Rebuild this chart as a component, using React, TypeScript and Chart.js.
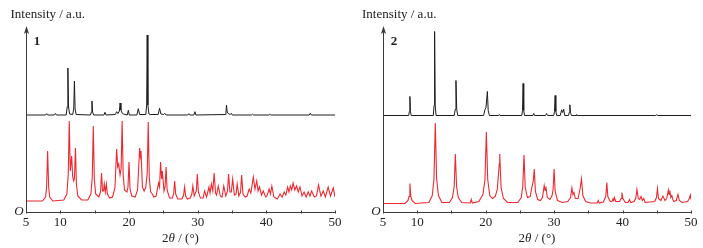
import React, { useEffect, useRef } from 'react';
import { Chart, registerables } from 'chart.js';

Chart.register(...registerables);

type Pt = [number, number];

// 2θ axis
const THETA_MIN = 5;
const THETA_MAX = 50;
const THETA_STEP = 5;
const THETA_LABELS = [5, 10, 20, 30, 40, 50];

// Intensity axis range (a.u.)
const INTENSITY_MAX = 186.5;

// Panel labels
const PANEL_IDS = ['1', '2'];

// Stacking offsets (a.u.)
const EXP1_OFFSET = 97.5;
const SIM1_OFFSET = 11.5;
const EXP2_OFFSET = 97;
const SIM2_OFFSET = 9;

// Compound 1, experimental (black)
const EXP1: Pt[] = [
  [5, 0], [7.85, 0], [8.0, 1.3], [8.15, 0], [9.15, 0], [9.3, 1.5], [9.45, 0],
  [10.85, 0], [11.0, 8], [11.1, 47], [11.2, 8], [11.35, 1], [11.8, 0.5], [11.95, 6], [12.05, 34], [12.15, 6], [12.3, 0.5],
  [14.4, 0], [14.52, 3], [14.6, 14], [14.7, 3], [14.85, 0], [16.35, 0], [16.5, 2.7], [16.65, 0],
  [18.0, 0.5], [18.2, 3.3], [18.4, 1.5], [18.6, 4], [18.7, 12], [18.82, 5], [19.0, 2], [19.2, 1], [19.75, 0], [19.9, 4.7], [20.05, 0],
  [21.15, 0], [21.35, 6.3], [21.55, 0.5], [22.45, 0.5], [22.57, 10], [22.65, 80], [22.75, 10], [22.9, 1], [23.1, 0.5],
  [24.25, 0.5], [24.45, 6.7], [24.65, 1], [25.05, 0.5], [25.2, 1.7], [25.4, 0],
  [28.55, 0], [28.7, 1.3], [28.85, 0], [29.45, 0], [29.6, 3.3], [29.75, 0],
  [34.0, 0.5], [34.12, 3], [34.2, 10], [34.3, 3], [34.45, 1.5], [34.75, 0.5], [34.9, 1.7], [35.05, 0],
  [37.85, 0], [38.0, 0.8], [38.15, 0], [40.35, 0], [40.5, 0.8], [40.65, 0],
  [46.25, 0], [46.4, 1.7], [46.55, 0], [50, 0],
];

// Compound 1, simulated (red)
const SIM1: Pt[] = [
  [5, 0], [7.4, 0], [7.85, 4], [8.0, 14], [8.15, 50], [8.3, 14], [8.45, 4], [8.9, 0],
  [10.5, 1], [10.95, 7], [11.15, 26], [11.3, 80], [11.45, 30], [11.65, 45], [11.8, 24], [11.95, 20], [12.05, 22], [12.2, 53], [12.35, 16], [12.55, 5], [13.1, 1],
  [14.0, 1], [14.45, 7], [14.65, 24], [14.8, 75], [14.95, 22], [15.15, 7], [15.6, 4], [15.85, 9], [16.0, 28], [16.15, 10], [16.3, 10], [16.4, 17], [16.55, 9], [16.7, 17], [16.85, 7], [17.2, 3],
  [17.6, 4], [17.95, 13], [18.2, 52], [18.35, 34], [18.5, 37], [18.7, 26], [18.85, 32], [19.0, 80], [19.15, 26], [19.35, 11], [19.7, 9], [19.85, 14], [20.0, 39], [20.15, 12], [20.4, 5],
  [20.9, 4], [21.25, 11], [21.55, 53], [21.65, 45], [21.75, 50], [21.95, 14], [22.2, 10], [22.45, 14], [22.65, 28], [22.8, 79], [22.95, 24], [23.15, 9], [23.4, 7], [23.6, 4],
  [23.95, 5], [24.3, 18], [24.45, 14], [24.6, 39], [24.75, 22], [24.85, 30], [25.1, 10], [25.25, 14], [25.4, 34], [25.55, 11], [25.9, 3],
  [26.3, 3], [26.5, 7], [26.65, 20], [26.8, 7], [27.1, 2],
  [27.7, 2], [27.95, 6], [28.1, 14], [28.25, 5], [28.5, 2],
  [28.9, 3], [29.15, 7], [29.3, 15], [29.5, 5], [29.8, 10], [29.95, 27], [30.1, 9], [30.4, 3],
  [30.8, 3], [31.0, 10], [31.3, 4], [31.65, 14], [31.8, 8], [32.0, 17], [32.2, 10], [32.4, 28], [32.6, 8], [32.75, 6],
  [33.0, 15], [33.3, 5], [33.55, 4], [33.8, 15], [34.1, 5], [34.35, 10], [34.5, 27], [34.7, 9], [34.9, 9], [35.1, 22], [35.35, 6],
  [35.6, 7], [35.75, 17], [36.0, 5], [36.25, 9], [36.4, 26], [36.6, 7], [36.9, 4],
  [37.2, 5], [37.5, 12], [37.75, 8], [38.1, 24], [38.35, 12], [38.6, 20], [38.8, 10], [39.0, 14], [39.3, 6], [39.55, 10], [39.9, 4],
  [40.1, 5], [40.4, 12], [40.6, 7], [40.8, 15], [41.1, 4], [41.6, 2], [42.0, 7], [42.3, 4], [42.6, 9], [42.85, 6],
  [43.1, 14], [43.3, 9], [43.5, 15], [43.7, 11], [43.9, 18], [44.15, 11], [44.4, 15], [44.65, 9], [44.9, 14],
  [45.2, 5], [45.5, 9], [45.8, 4], [46.1, 9], [46.35, 5], [46.6, 10], [47.0, 4], [47.3, 5], [47.6, 16], [47.95, 5],
  [48.3, 10], [48.6, 4], [49.0, 14], [49.35, 5], [49.75, 13], [50, 4],
];

// Compound 2, experimental (black)
const EXP2: Pt[] = [
  [5, 0], [8.75, 0], [8.85, 4], [8.93, 19], [9.01, 4], [9.12, 0],
  [12.35, 0], [12.46, 10], [12.54, 84], [12.63, 10], [12.75, 0],
  [15.4, 0], [15.55, 6], [15.66, 35], [15.77, 6], [15.92, 0],
  [19.7, 0], [19.9, 6], [20.05, 8], [20.25, 24], [20.37, 5], [20.55, 0],
  [21.9, 0], [22.0, 1], [22.1, 0],
  [25.28, 0], [25.38, 5], [25.47, 32], [25.56, 5], [25.68, 0],
  [26.9, 0], [27.03, 2], [27.15, 0],
  [28.75, 0], [28.9, 2], [29.05, 0],
  [29.95, 0], [30.05, 4], [30.15, 20], [30.25, 4], [30.38, 0],
  [30.9, 0], [31.1, 5.7], [31.25, 3], [31.4, 6.3], [31.55, 0],
  [32.1, 0], [32.2, 3], [32.3, 10.7], [32.4, 3], [32.52, 0],
  [33.2, 0], [33.3, 1], [33.4, 0],
  [44.85, 0], [45.0, 0.8], [45.15, 0], [50, 0],
];

// Compound 2, simulated (red)
const SIM2: Pt[] = [
  [5, 0], [8.2, 0], [8.65, 3], [8.8, 7], [8.93, 20], [9.06, 7], [9.25, 3], [9.7, 0],
  [11.7, 1], [12.2, 8], [12.45, 25], [12.64, 80.5], [12.83, 25], [13.1, 8], [13.6, 1],
  [14.7, 1], [15.15, 6], [15.4, 17], [15.57, 49.5], [15.75, 17], [16.0, 6], [16.5, 1],
  [17.75, 0.5], [17.9, 4], [18.05, 0.5],
  [19.0, 2], [19.6, 9], [19.9, 24], [20.1, 71.5], [20.3, 24], [20.6, 8], [21.0, 5], [21.4, 7], [21.7, 14], [21.9, 32], [22.0, 40], [22.06, 49.5], [22.25, 16], [22.6, 5], [23.2, 1],
  [24.7, 1], [25.2, 6], [25.42, 17], [25.6, 48.5], [25.78, 16], [26.1, 6], [26.5, 7], [26.8, 18], [26.95, 22], [27.1, 34.5], [27.27, 12], [27.6, 4], [28.0, 3],
  [28.3, 6], [28.55, 18], [28.68, 13], [28.8, 17], [29.0, 6], [29.4, 4],
  [29.7, 8], [29.85, 14], [30.0, 34.5], [30.15, 12], [30.5, 3], [31.2, 1],
  [32.0, 2], [32.4, 6], [32.6, 15.5], [32.75, 9], [32.9, 11], [33.1, 5], [33.5, 5], [33.8, 15], [34.0, 24.5], [34.2, 8], [34.6, 2], [35.3, 0.5],
  [36.3, 0.5], [36.45, 3], [36.6, 0.5],
  [37.2, 1.5], [37.55, 7], [37.7, 21], [37.85, 7], [38.2, 2],
  [38.45, 2], [38.6, 4.5], [38.7, 3], [38.8, 6], [39.0, 2],
  [39.55, 2], [39.8, 5], [39.9, 11], [40.05, 5], [40.4, 1],
  [40.8, 1], [41.0, 4], [41.2, 1],
  [41.7, 2], [41.95, 6], [42.1, 14], [42.3, 5], [42.5, 4], [42.7, 7], [42.9, 3], [43.1, 5], [43.3, 1],
  [44.7, 2], [44.95, 6], [45.1, 15], [45.25, 5], [45.6, 3], [45.9, 7.5], [46.2, 3], [46.45, 5], [46.7, 13.5], [46.8, 9], [46.9, 13],
  [47.05, 6], [47.2, 8], [47.35, 4], [47.5, 2],
  [47.85, 3], [48.1, 9], [48.3, 3], [48.7, 1],
  [49.5, 2], [49.75, 5], [49.9, 8.5], [50, 4],
];

const FONT = "'Liberation Serif', 'Times New Roman', serif";
const AXIS_COLOR = '#3a3a3a';
const TEXT_COLOR = '#222';
const BLACK = '#1e1e1e';
const RED = '#ea2a33';

type PanelProps = {
  id: string;
  exp: Pt[];
  sim: Pt[];
  expOffset: number;
  simOffset: number;
  width: number;
  height: number;
  padLeft: number;
  padRight: number;
  padTop: number;
  xAxisHeight: number;
  titleDx: number;
};

function Panel(p: PanelProps) {
  const ref = useRef<HTMLCanvasElement | null>(null);

  useEffect(() => {
    const canvas = ref.current;
    if (!canvas) return;

    const decor = {
      id: 'decor',
      afterDraw(chart: any) {
        const { ctx, chartArea: a } = chart;
        const xs = chart.scales.x;
        ctx.save();
        ctx.strokeStyle = AXIS_COLOR;
        ctx.fillStyle = AXIS_COLOR;
        ctx.lineWidth = 1;
        const ax = Math.round(a.left) + 0.5;
        // y axis with arrow
        ctx.beginPath();
        ctx.moveTo(ax, a.bottom);
        ctx.lineTo(ax, a.top + 5);
        ctx.stroke();
        ctx.beginPath();
        ctx.moveTo(ax, a.top);
        ctx.lineTo(ax - 2.6, a.top + 8);
        ctx.lineTo(ax, a.top + 6);
        ctx.lineTo(ax + 2.6, a.top + 8);
        ctx.closePath();
        ctx.fill();
        // inward ticks
        const by = Math.round(a.bottom) + 0.5;
        for (const t of xs.ticks) {
          const px = Math.round(xs.getPixelForValue(t.value)) + 0.5;
          ctx.beginPath();
          ctx.moveTo(px, by);
          ctx.lineTo(px, by - 3);
          ctx.stroke();
        }
        // texts
        ctx.fillStyle = TEXT_COLOR;
        ctx.textBaseline = 'alphabetic';
        ctx.textAlign = 'left';
        ctx.font = `13px ${FONT}`;
        ctx.fillText('Intensity / a.u.', a.left + p.titleDx, 18);
        ctx.font = `italic 13px ${FONT}`;
        ctx.textAlign = 'center';
        ctx.fillText('O', a.left - 7, a.bottom + 2);
        ctx.font = `bold 13px ${FONT}`;
        ctx.fillText(p.id, a.left + 11, 45);
        // x title
        const parts: [string, string][] = [
          ['2', `13px ${FONT}`],
          ['θ', `italic 13px ${FONT}`],
          [' / (°)', `13px ${FONT}`],
        ];
        ctx.textAlign = 'left';
        let total = 0;
        for (const [s, f] of parts) {
          ctx.font = f;
          total += ctx.measureText(s).width;
        }
        let cx = (a.left + a.right) / 2 - total / 2;
        for (const [s, f] of parts) {
          ctx.font = f;
          ctx.fillText(s, cx, 242);
          cx += ctx.measureText(s).width;
        }
        ctx.restore();
      },
    };

    const toXY = (arr: Pt[], off: number) => arr.map(([x, y]) => ({ x, y: y + off }));

    const chart = new Chart(canvas, {
      type: 'line',
      data: {
        datasets: [
          {
            data: toXY(p.sim, p.simOffset),
            borderColor: RED,
            borderWidth: 1.1,
            pointRadius: 0,
            tension: 0,
            fill: false,
          },
          {
            data: toXY(p.exp, p.expOffset),
            borderColor: BLACK,
            borderWidth: 1,
            pointRadius: 0,
            tension: 0,
            fill: false,
          },
        ],
      },
      options: {
        animation: false,
        responsive: false,
        devicePixelRatio: 1,
        parsing: false as any,
        normalized: true,
        layout: { padding: { left: p.padLeft, right: p.padRight, top: p.padTop, bottom: 0 } },
        plugins: { legend: { display: false }, tooltip: { enabled: false }, title: { display: false } },
        scales: {
          x: {
            type: 'linear',
            min: THETA_MIN,
            max: THETA_MAX,
            afterFit: (s: any) => {
              s.height = p.xAxisHeight;
            },
            grid: { display: false, drawTicks: false },
            border: { display: true, color: AXIS_COLOR, width: 1 },
            ticks: {
              stepSize: THETA_STEP,
              autoSkip: false,
              maxRotation: 0,
              padding: 2,
              color: TEXT_COLOR,
              font: { family: FONT, size: 13 },
              callback: (v: any) => (THETA_LABELS.includes(Number(v)) ? String(v) : ''),
            },
          },
          y: {
            type: 'linear',
            display: false,
            min: 0,
            max: INTENSITY_MAX,
          },
        },
      },
      plugins: [decor],
    });
    return () => chart.destroy();
  }, []);

  return <canvas ref={ref} width={p.width} height={p.height} style={{ display: 'block', width: p.width, height: p.height }} />;
}

export default function App() {
  return (
    <div style={{ position: 'fixed', left: 0, top: 0, width: 703, height: 248, background: '#fff', display: 'flex' }}>
      <Panel
        id={PANEL_IDS[0]}
        exp={EXP1}
        sim={SIM1}
        expOffset={EXP1_OFFSET}
        simOffset={SIM1_OFFSET}
        width={350}
        height={248}
        padLeft={26}
        padRight={15}
        padTop={26}
        xAxisHeight={35.5}
        titleDx={-15.5}
      />
      <Panel
        id={PANEL_IDS[1]}
        exp={EXP2}
        sim={SIM2}
        expOffset={EXP2_OFFSET}
        simOffset={SIM2_OFFSET}
        width={353}
        height={248}
        padLeft={33}
        padRight={12}
        padTop={26}
        xAxisHeight={35.5}
        titleDx={-21}
      />
    </div>
  );
}
